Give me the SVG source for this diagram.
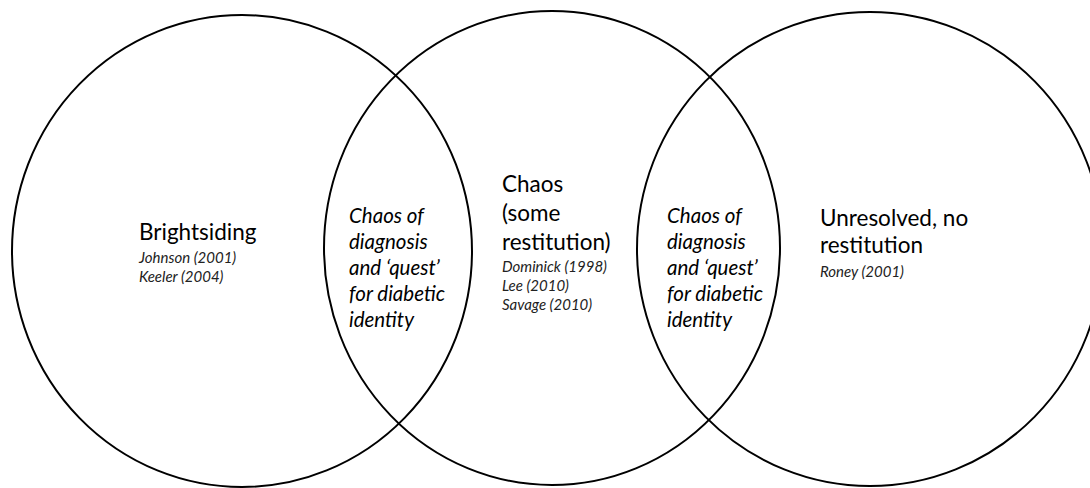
<svg xmlns="http://www.w3.org/2000/svg" width="1090" height="488" viewBox="0 0 1090 488">
<style>
.c{fill:none;stroke:#000;stroke-width:2}
.h{font-family:Lato,"Liberation Sans",sans-serif;font-size:22.5px;fill:#000}
.r{font-family:Lato,"Liberation Sans",sans-serif;font-size:15px;font-style:italic;fill:#222}
.l{font-family:Lato,"Liberation Sans",sans-serif;font-size:20.5px;font-style:italic;fill:#000}
</style>
<rect width="1090" height="488" fill="#fff"/>
<g id="circles">
<ellipse id="c1" class="c" cx="242" cy="251" rx="230" ry="236"/>
<ellipse id="c2" class="c" cx="552" cy="248" rx="228" ry="237"/>
<ellipse id="c3" class="c" cx="870" cy="249" rx="233" ry="237"/>
</g>
<g id="brightsiding">
<text class="h" x="139" y="240">Brightsiding</text>
<text class="r" x="139" y="263">Johnson (2001)</text>
<text class="r" x="139" y="282">Keeler (2004)</text>
</g>
<g id="lens-left">
<text class="l" x="349" y="223">Chaos of</text>
<text class="l" x="349" y="249">diagnosis</text>
<text class="l" x="349" y="275">and ‘quest’</text>
<text class="l" x="349" y="301">for diabetic</text>
<text class="l" x="349" y="327">identity</text>
</g>
<g id="chaos">
<text class="h" x="502" y="192">Chaos</text>
<text class="h" x="502" y="221">(some</text>
<text class="h" x="502" y="250">restitution)</text>
<text class="r" x="502" y="272">Dominick (1998)</text>
<text class="r" x="502" y="291">Lee (2010)</text>
<text class="r" x="502" y="310">Savage (2010)</text>
</g>
<g id="lens-right">
<text class="l" x="667" y="223">Chaos of</text>
<text class="l" x="667" y="249">diagnosis</text>
<text class="l" x="667" y="275">and ‘quest’</text>
<text class="l" x="667" y="301">for diabetic</text>
<text class="l" x="667" y="327">identity</text>
</g>
<g id="unresolved">
<text class="h" x="820" y="226">Unresolved, no</text>
<text class="h" x="820" y="253">restitution</text>
<text class="r" x="820" y="277">Roney (2001)</text>
</g>
</svg>
